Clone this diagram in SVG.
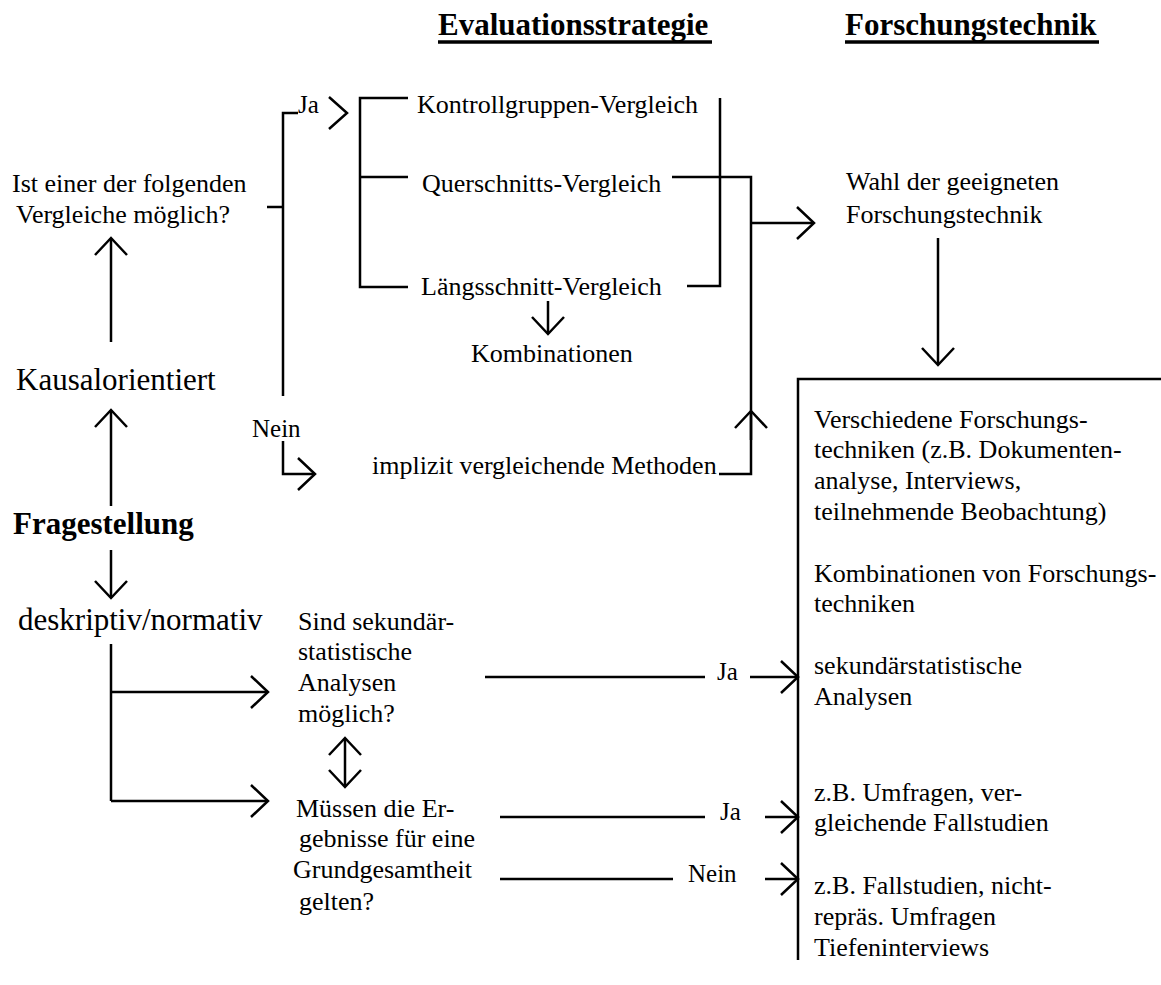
<svg xmlns="http://www.w3.org/2000/svg" width="1161" height="985" viewBox="0 0 1161 985">
<style>
text{font-family:"Liberation Serif","Times New Roman",serif;fill:#000}
.t{font-size:26px}
.big{font-size:31px}
.lbl{font-size:25px}
.hd{font-size:31px;font-weight:bold}
.ln{fill:none;stroke:#000;stroke-width:2.5}
.ul{stroke:#000;stroke-width:3.5}
.arr{fill:none;stroke:#000;stroke-width:2.5;marker-end:url(#ah)}
</style>
<defs>
<marker id="ah" markerUnits="userSpaceOnUse" markerWidth="44" markerHeight="44" viewBox="-22 -22 44 44" refX="0" refY="0" orient="auto-start-reverse" overflow="visible">
<path d="M-17,-16 L0,0 L-17,16" fill="none" stroke="#000" stroke-width="2.5"/>
</marker>
</defs>
<rect width="1161" height="985" fill="#fff"/>

<g id="headers">
<text class="hd" x="438" y="35">Evaluationsstrategie</text>
<line class="ul" x1="438" y1="42" x2="712" y2="42"/>
<text class="hd" x="845" y="35">Forschungstechnik</text>
<line class="ul" x1="845" y1="42" x2="1099" y2="42"/>
</g>

<g id="n-frage"><text class="t" x="12" y="192">Ist einer der folgenden</text><text class="t" x="16" y="223">Vergleiche möglich?</text></g>
<g id="n-kausal"><text class="big" x="16" y="390">Kausalorientiert</text></g>
<g id="n-fragestellung"><text class="big" x="13" y="534" font-weight="bold">Fragestellung</text></g>
<g id="n-deskriptiv"><text class="big" x="18" y="630">deskriptiv/normativ</text></g>

<g id="n-kontroll"><text class="t" x="417" y="113">Kontrollgruppen-Vergleich</text></g>
<g id="n-quer"><text class="t" x="422" y="192">Querschnitts-Vergleich</text></g>
<g id="n-laengs"><text class="t" x="421" y="295">Längsschnitt-Vergleich</text></g>
<g id="n-kombi"><text class="t" x="471" y="362">Kombinationen</text></g>
<g id="n-implizit"><text class="t" x="372" y="474">implizit vergleichende Methoden</text></g>

<g id="n-wahl"><text class="t" x="846" y="190">Wahl der geeigneten</text><text class="t" x="846" y="223">Forschungstechnik</text></g>

<g id="n-sek-frage">
<text class="t" x="298" y="630">Sind sekundär-</text>
<text class="t" x="298" y="660">statistische</text>
<text class="t" x="298" y="691">Analysen</text>
<text class="t" x="298" y="722">möglich?</text>
</g>
<g id="n-muessen">
<text class="t" x="296" y="817">Müssen die Er-</text>
<text class="t" x="299" y="847">gebnisse für eine</text>
<text class="t" x="293" y="878">Grundgesamtheit</text>
<text class="t" x="299" y="910">gelten?</text>
</g>

<g id="n-box">
<path class="ln" d="M798,960 V379 H1161"/>
<text class="t" x="814" y="428">Verschiedene Forschungs-</text>
<text class="t" x="814" y="458">techniken (z.B. Dokumenten-</text>
<text class="t" x="814" y="489">analyse, Interviews,</text>
<text class="t" x="814" y="520">teilnehmende Beobachtung)</text>
<text class="t" x="814" y="582">Kombinationen von Forschungs-</text>
<text class="t" x="814" y="612">techniken</text>
<text class="t" x="814" y="674">sekundärstatistische</text>
<text class="t" x="814" y="705">Analysen</text>
<text class="t" x="814" y="801">z.B. Umfragen, ver-</text>
<text class="t" x="814" y="831">gleichende Fallstudien</text>
<text class="t" x="814" y="894">z.B. Fallstudien, nicht-</text>
<text class="t" x="814" y="925">repräs. Umfragen</text>
<text class="t" x="814" y="956">Tiefeninterviews</text>
</g>

<g id="connectors">
<path class="arr" d="M111,342 V238"/>
<path class="arr" d="M111,506 V410"/>
<path class="arr" d="M111,550 V598"/>
<path class="ln" d="M267,207 H283"/>
<path class="ln" d="M298,113 H283 V396"/>
<text class="lbl" x="298" y="113">Ja</text>
<path class="ln" d="M329,97 L347,113 L329,129"/>
<text class="lbl" x="252" y="437">Nein</text>
<path class="arr" d="M283,441 V474 H315"/>
<path class="ln" d="M408,98 H360 V287 H408"/>
<path class="ln" d="M360,177 H408"/>
<path class="ln" d="M720,98 V286 H687"/>
<path class="ln" d="M672,177 H751 V474 H719"/>
<path class="arr" d="M751,440 V411"/>
<path class="arr" d="M751,223 H814"/>
<path class="arr" d="M548,301 V334"/>
<path class="arr" d="M938,238 V365"/>
<path class="ln" d="M111,644 V801"/>
<path class="arr" d="M111,692 H268"/>
<path class="arr" d="M111,801 H268"/>
<path class="arr" d="M345,762 V738"/>
<path class="arr" d="M345,762 V787"/>
<path class="ln" d="M485,677 H705"/>
<text class="lbl" x="717" y="680">Ja</text>
<path class="arr" d="M750,677 H798"/>
<path class="ln" d="M500,817 H705"/>
<text class="lbl" x="720" y="820">Ja</text>
<path class="arr" d="M765,817 H798"/>
<path class="ln" d="M500,879 H673"/>
<text class="lbl" x="688" y="882">Nein</text>
<path class="arr" d="M765,879 H798"/>
</g>
</svg>
